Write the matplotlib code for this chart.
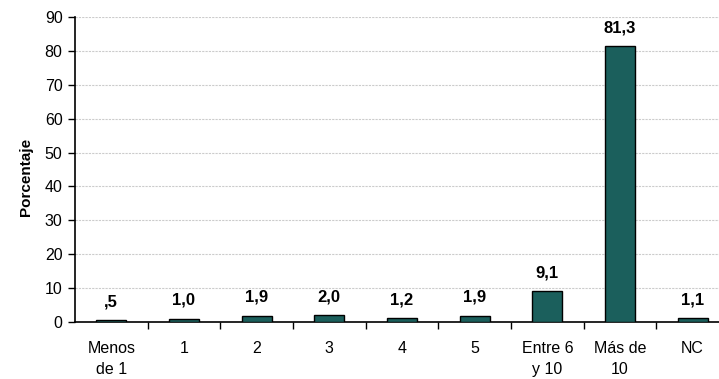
import numpy as np
import matplotlib.pyplot as plt

plt.rcParams['font.family'] = ['Liberation Sans', 'DejaVu Sans']

# data
categorias = ['Menos\nde 1', '1', '2', '3', '4', '5', 'Entre 6\ny 10', 'Más de\n10', 'NC']
porcentajes = [0.5, 1.0, 1.9, 2.0, 1.2, 1.9, 9.1, 81.3, 1.1]
etiquetas = [',5', '1,0', '1,9', '2,0', '1,2', '1,9', '9,1', '81,3', '1,1']
y_ticks = [0, 10, 20, 30, 40, 50, 60, 70, 80, 90]

W, H = 719, 379
fig = plt.figure(figsize=(W / 100, H / 100), dpi=100)
# plot area runs past the right edge of the picture, as in the reference
left, right, top, bottom = 75, 729, 17, 322
ax = fig.add_axes([left / W, 1 - bottom / H, (right - left) / W, (bottom - top) / H])

x = np.arange(len(categorias))
ax.bar(x, porcentajes, width=0.41, color='#1b5f5c', edgecolor='black', linewidth=1.0, zorder=3)

for xi, v, lab in zip(x, porcentajes, etiquetas):
    ax.annotate(lab, (xi, v), xytext=(0, 10), textcoords='offset points',
                ha='center', va='baseline', fontsize=12, fontweight='bold')

ax.set_xlim(-0.5, len(categorias) - 0.5)
ax.set_ylim(0, 90)
ax.set_yticks(y_ticks)
ax.tick_params(axis='y', labelsize=11.5, length=5, width=1, pad=4)

# category labels centred, ticks between categories
ax.set_xticks(x)
ax.set_xticklabels(categorias, fontsize=11.5, linespacing=1.45)
ax.tick_params(axis='x', which='major', length=0, pad=14)
ax.set_xticks(np.arange(len(categorias)) + 0.5, minor=True)
ax.tick_params(axis='x', which='minor', length=5, width=1)

ax.yaxis.grid(True, color='#cccccc', linestyle=(0, (2, 1)), linewidth=0.8, zorder=0)
ax.set_axisbelow(True)

for s in ['top', 'right']:
    ax.spines[s].set_visible(False)
ax.spines['left'].set_linewidth(1.2)
ax.spines['bottom'].set_linewidth(1.2)

ax.set_ylabel('Porcentaje', fontsize=11, fontweight='bold')
ax.yaxis.set_label_coords(-0.064, 0.475)

fig.savefig('out.png', dpi=100)
